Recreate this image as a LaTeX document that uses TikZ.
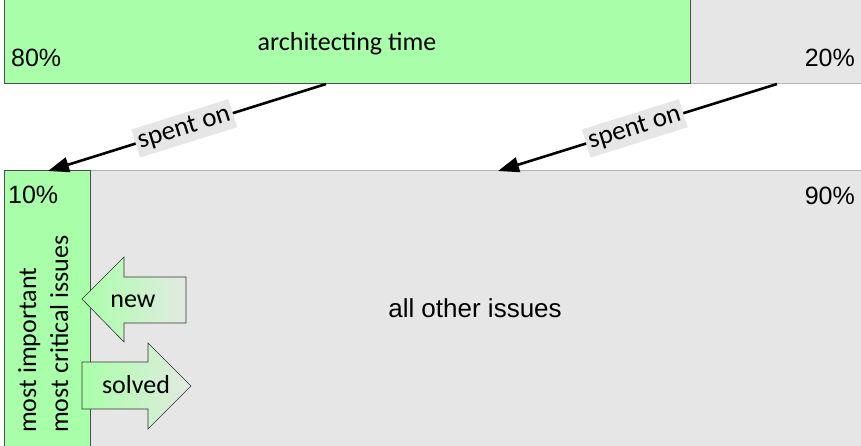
\documentclass[tikz,border=0pt]{standalone}
\usepackage{fontspec}
\setmainfont{Carlito}
\newfontfamily\arialf{Liberation Sans}
\usetikzlibrary{arrows.meta}
\definecolor{lgreen}{HTML}{A9FFA9}
\definecolor{lgray}{HTML}{E6E6E6}
\definecolor{darkedge}{HTML}{4D4D4D}
\definecolor{grayedge}{HTML}{B3B3B3}
\definecolor{arrowend}{HTML}{E2EAE2}
\tikzset{
  greenbar/.style={fill=lgreen,draw=darkedge,line width=1pt},
  graybar/.style={fill=lgray,draw=grayedge,line width=1pt},
  pct/.style={font=\arialf\fontsize{25}{30}\selectfont,inner sep=0pt},
  cal/.style={font=\fontsize{26}{31}\selectfont,inner sep=0pt},
  spent/.style={-{Triangle[length=21pt,width=15pt]},line width=2.6pt,black},
  spentlbl/.style={font=\fontsize{27}{32}\selectfont,fill=lgray,inner xsep=3pt,inner ysep=4pt,sloped,midway},
  bigarrow/.style={draw=black!80,line width=0.6pt,left color=lgreen,right color=arrowend}
}
\begin{document}
\begin{tikzpicture}[x=1pt,y=-1pt]
\clip (0,0) rectangle (861,446);
% top bar
\draw[graybar] (690,-5) rectangle (870,84);
\draw[greenbar] (4,-5) rectangle (690,84);
\node[pct,anchor=base west] (p80) at (11,67) {80\%};
\node[pct,anchor=base east] (p20) at (855,67) {20\%};
\node[cal,anchor=base] (arch) at (347,51) {architecting time};
% bottom bar
\draw[graybar] (90,171) rectangle (870,452);
\draw[greenbar] (4,171) rectangle (90,452);
\node[pct,anchor=base west] (p10) at (8,204) {10\%};
\node[pct,anchor=base east] (p90) at (855,205) {90\%};
\node[font=\arialf\fontsize{26}{31}\selectfont,inner sep=0pt,anchor=base] (other) at (475,317) {all other issues};
\node[cal,anchor=base west,rotate=90] (imp) at (36,433) {most important};
\node[cal,anchor=base west,rotate=90] (crit) at (68,433) {most critical issues};
% connectors
\coordinate (s1) at (326,84);
\coordinate (e1) at (48,171);
\coordinate (s2) at (777,84);
\coordinate (e2) at (498,171);
\draw[spent] (s1) -- node[spentlbl,pos=0.51] (l1) {spent on} (e1);
\draw[spent] (s2) -- node[spentlbl,pos=0.51] (l2) {spent on} (e2);
% block arrows
\path[bigarrow] (82,299) -- (124,257) -- (124,277) -- (186,277) -- (186,323) -- (124,323) -- (124,342) -- cycle;
\node[cal,anchor=base] (new) at (133,307) {new};
\path[bigarrow] (82,362) -- (148,362) -- (148,343) -- (191,386) -- (148,429) -- (148,409) -- (82,409) -- cycle;
\node[cal,anchor=base] (solved) at (136,393) {solved};
\end{tikzpicture}
\end{document}
